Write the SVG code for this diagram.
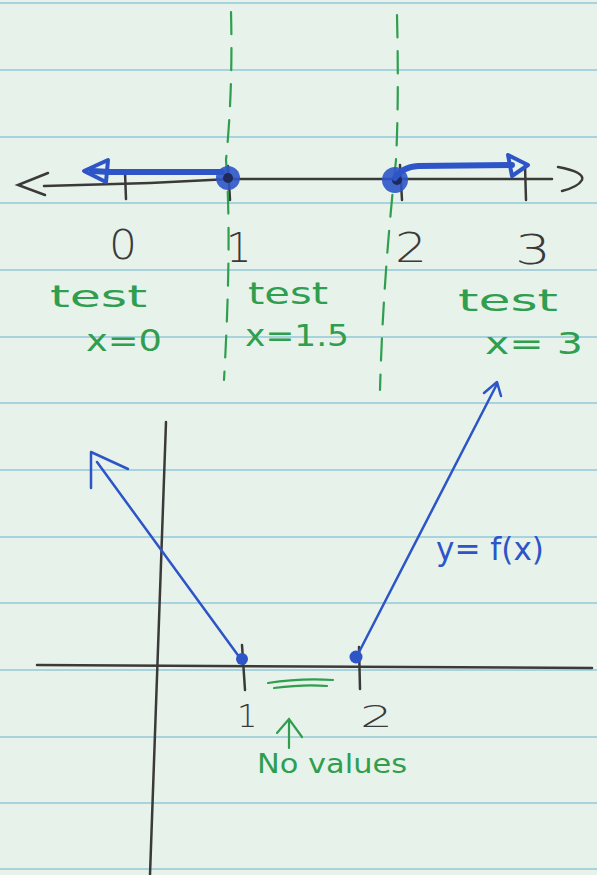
<svg xmlns="http://www.w3.org/2000/svg" width="597" height="875" viewBox="0 0 597 875">
<defs>
<style>
.rule{stroke:#a9d3dc;stroke-width:2}
.ink{stroke:#3a3a3a;stroke-width:2.5;fill:none;stroke-linecap:round}
.blue{stroke:#2d55c8;fill:none;stroke-linecap:round;stroke-linejoin:round}
.green{stroke:#2f9e4f;fill:none;stroke-width:2.2;stroke-linecap:round}
.num{font-family:"DejaVu Sans",sans-serif;font-size:40px;fill:#3a3a3a;font-weight:300}
.gt{font-family:"DejaVu Sans",sans-serif;font-size:30px;fill:#2f9e4f}
.bt{font-family:"DejaVu Sans",sans-serif;font-size:32px;fill:#2d55c8}
</style>
</defs>
<rect width="597" height="875" fill="#e7f2ea"/>
<g id="paper">
<line class="rule" x1="0" y1="3" x2="597" y2="3"/>
<line class="rule" x1="0" y1="70" x2="597" y2="70"/>
<line class="rule" x1="0" y1="137" x2="597" y2="137"/>
<line class="rule" x1="0" y1="203" x2="597" y2="203"/>
<line class="rule" x1="0" y1="270" x2="597" y2="270"/>
<line class="rule" x1="0" y1="337" x2="597" y2="337"/>
<line class="rule" x1="0" y1="403" x2="597" y2="403"/>
<line class="rule" x1="0" y1="470" x2="597" y2="470"/>
<line class="rule" x1="0" y1="537" x2="597" y2="537"/>
<line class="rule" x1="0" y1="603" x2="597" y2="603"/>
<line class="rule" x1="0" y1="670" x2="597" y2="670"/>
<line class="rule" x1="0" y1="737" x2="597" y2="737"/>
<line class="rule" x1="0" y1="803" x2="597" y2="803"/>
<line class="rule" x1="0" y1="869" x2="597" y2="869"/>
</g>
<g id="number-line">
<path class="ink" d="M44 186 L150 183 L230 179 L400 179 L552 179"/>
<path class="ink" d="M48 173 L18 185 L45 195"/>
<path class="ink" d="M558 167 Q585 172 582 180 Q578 187 562 191"/>
<path class="ink" d="M125 172 L126 199"/>
<path class="ink" d="M228 166 L230 200"/>
<path class="ink" d="M400 165 L402 200"/>
<path class="ink" d="M525 165 L526 200"/>
</g>
<g id="dashes">
<path class="green" stroke-dasharray="22 14" d="M231 12 Q233 90 226 160 Q232 240 224 380"/>
<path class="green" stroke-dasharray="22 14" d="M397 15 Q399 100 396 160 Q383 280 380 390"/>
</g>
<g id="shading">
<path class="blue" stroke-width="6" d="M222 172 L110 172 L92 171"/>
<path class="blue" stroke-width="4" d="M84 171 L108 160 L106 182 Z" fill="#2d55c8"/>
<circle cx="228" cy="178" r="12" fill="#2d55c8" opacity="0.9"/>
<circle cx="228" cy="178" r="5" fill="#1e2a5a"/>
<circle cx="395" cy="180" r="13" fill="#2d55c8" opacity="0.9"/>
<circle cx="397" cy="180" r="5" fill="#1e2a5a"/>
<path class="blue" stroke-width="6" d="M395 178 Q402 167 418 166 L512 165"/>
<path class="blue" stroke-width="4" d="M508 155 L528 165 L512 176 Z"/>
</g>
<g id="labels-top">
<text class="num" x="109" y="259" textLength="28" lengthAdjust="spacingAndGlyphs">0</text>
<text class="num" x="226" y="262">1</text>
<text class="num" x="395" y="262" textLength="32" lengthAdjust="spacingAndGlyphs">2</text>
<text class="num" x="515" y="264" textLength="36" lengthAdjust="spacingAndGlyphs">3</text>
<text class="gt" x="50" y="307" textLength="97" lengthAdjust="spacingAndGlyphs">test</text>
<text class="gt" x="86" y="351" textLength="76" lengthAdjust="spacingAndGlyphs">x=0</text>
<text class="gt" x="248" y="304" textLength="80" lengthAdjust="spacingAndGlyphs">test</text>
<text class="gt" x="245" y="346" textLength="104" lengthAdjust="spacingAndGlyphs">x=1.5</text>
<text class="gt" x="458" y="311" textLength="100" lengthAdjust="spacingAndGlyphs">test</text>
<text class="gt" x="485" y="354" textLength="98" lengthAdjust="spacingAndGlyphs">x= 3</text>
</g>
<g id="graph">
<path class="ink" d="M166 422 L150 875"/>
<path class="ink" d="M37 665 L592 668"/>
<path class="ink" d="M242 645 L245 690"/>
<path class="ink" d="M359 647 L360 689"/>
<path class="blue" stroke-width="2.5" d="M240 658 L97 462"/>
<path class="blue" stroke-width="2.5" d="M91 488 L91 452 L128 469"/>
<path class="blue" stroke-width="2.5" d="M357 656 L497 384"/>
<path class="blue" stroke-width="2.5" d="M484 393 L497 382 L501 396"/>
<circle cx="242" cy="659" r="6" fill="#2d55c8"/>
<circle cx="356" cy="657" r="6.5" fill="#2d55c8"/>
<text class="num" x="237" y="727" style="font-size:32px">1</text>
<text class="num" x="360" y="727" style="font-size:30px" textLength="33" lengthAdjust="spacingAndGlyphs">2</text>
<path class="green" d="M268 683 Q300 678 333 680 M274 688 Q305 684 327 686"/>
<path class="green" d="M289 748 L289 720 M277 733 L289 719 L302 737"/>
<text class="gt" x="257" y="773" style="font-size:26px" textLength="150" lengthAdjust="spacingAndGlyphs">No values</text>
<text class="bt" x="436" y="560" textLength="108" lengthAdjust="spacingAndGlyphs">y= f(x)</text>
</g>
</svg>
